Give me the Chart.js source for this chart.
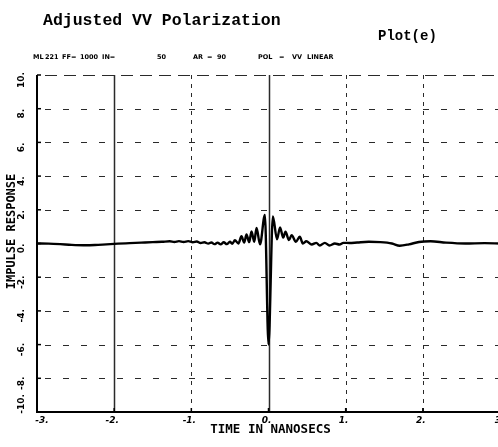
<!DOCTYPE html>
<html>
<head>
<meta charset="utf-8">
<script src="https://cdn.jsdelivr.net/npm/chart.js@4/dist/chart.umd.min.js"></script>
<style>
  html, body { margin: 0; padding: 0; background: #fff; overflow: hidden; }
  #wrap { width: 502px; height: 447px; }
</style>
</head>
<body>
<div id="wrap"><canvas id="plot" width="502" height="447"></canvas></div>
<script>
// impulse response samples, time in ns
const timeNs = [
  -3.00, -2.85, -2.70, -2.55, -2.40, -2.25, -2.10, -1.95, -1.80, -1.65,
  -1.50, -1.38, -1.28, -1.22, -1.16, -1.10, -1.04, -0.98, -0.93, -0.88,
  -0.83, -0.78, -0.74, -0.70, -0.66, -0.62, -0.58, -0.54, -0.50, -0.47,
  -0.435, -0.39, -0.35, -0.315, -0.285, -0.25, -0.22, -0.185, -0.155, -0.11,
  -0.047, 0.00, 0.057, 0.11, 0.15, 0.19, 0.22, 0.265, 0.30, 0.355,
  0.405, 0.445, 0.49, 0.56, 0.62, 0.665, 0.73, 0.79, 0.86, 0.92,
  0.97, 1.05, 1.15, 1.30, 1.45, 1.60, 1.70, 1.82, 1.95, 2.10,
  2.30, 2.55, 2.80, 3.00
]
const response = [
  0.00, -0.01, -0.04, -0.08, -0.10, -0.09, -0.05, -0.01, 0.02, 0.05,
  0.08, 0.10, 0.13, 0.09, 0.14, 0.09, 0.14, 0.07, 0.12, 0.03,
  0.07, -0.01, 0.06, -0.04, 0.05, -0.05, 0.07, -0.04, 0.10, -0.02,
  0.19, 0.00, 0.43, 0.05, 0.53, 0.08, 0.72, 0.10, 0.93, -0.05,
  1.70, -6.00, 1.60, 0.25, 0.95, 0.35, 0.70, 0.20, 0.50, 0.10,
  0.40, 0.00, 0.13, -0.06, 0.04, -0.12, 0.04, -0.12, 0.00, -0.06,
  0.04, 0.03, 0.06, 0.10, 0.08, 0.00, -0.13, -0.05, 0.09, 0.13,
  0.05, 0.00, 0.02, 0.00
]

const xTicks = [-3, -2, -1, 0, 1, 2, 3]
const xTickLabels = ['-3.', '-2.', '-1.', '0.', '1.', '2.', '3']
const yTicks = [10, 8, 6, 4, 2, 0, -2, -4, -6, -8, -10]
const yTickLabels = ['10.', '8.', '6.', '4.', '2.', '0.', '-2.', '-4.', '-6.', '-8.', '-10.']
const solidX = [-2, 0]

const titleText = 'Adjusted VV Polarization'
const plotTag = 'Plot(e)'
const header = [
  ['ML', 33], ['221', 45], ['FF=', 62], ['1000', 80], ['IN=', 102], ['50', 157],
  ['AR', 193], ['=', 207], ['90', 217], ['POL', 258], ['=', 279], ['VV', 292], ['LINEAR', 307]
]
const xTitle = 'TIME IN NANOSECS'
const yTitle = 'IMPULSE RESPONSE'

const points = timeNs.map((t, i) => ({x: t, y: response[i]}))

const plotterFrame = {
  id: 'plotterFrame',
  beforeDatasetsDraw(chart) {
    const {ctx, chartArea: {left, right, top, bottom}, scales: {x, y}} = chart
    ctx.save()
    ctx.strokeStyle = '#2a2a2a'

    // horizontal grid
    ctx.lineWidth = 1
    yTicks.forEach(v => {
      if (v === 0 || v === -10) return
      const py = Math.round(y.getPixelForValue(v)) + 0.5
      ctx.setLineDash(v === 10 ? [12, 7] : [6, 12])
      ctx.beginPath()
      ctx.moveTo(left + 8, py)
      ctx.lineTo(right, py)
      ctx.stroke()
    })

    // vertical grid
    xTicks.forEach(v => {
      if (v === xTicks[0] || v === xTicks[xTicks.length - 1]) return
      const px = Math.round(x.getPixelForValue(v)) + 0.5
      const solid = solidX.includes(v)
      ctx.setLineDash(solid ? [] : [4, 5])
      ctx.lineWidth = solid ? 1.5 : 1
      ctx.beginPath()
      ctx.moveTo(px, top)
      ctx.lineTo(px, bottom)
      ctx.stroke()
    })

    // axes
    ctx.setLineDash([])
    ctx.strokeStyle = '#000'
    ctx.lineWidth = 2
    ctx.beginPath()
    ctx.moveTo(left, top)
    ctx.lineTo(left, bottom)
    ctx.lineTo(right, bottom)
    ctx.stroke()

    // tick marks
    ctx.lineWidth = 1.5
    yTicks.forEach(v => {
      const py = y.getPixelForValue(v)
      ctx.beginPath()
      ctx.moveTo(left, py)
      ctx.lineTo(left + 4, py)
      ctx.stroke()
    })
    xTicks.forEach(v => {
      const px = x.getPixelForValue(v)
      ctx.beginPath()
      ctx.moveTo(px, bottom)
      ctx.lineTo(px, bottom - 4)
      ctx.stroke()
    })
    ctx.restore()
  },
  afterDraw(chart) {
    const {ctx, chartArea: {left, right, bottom}, scales: {x, y}} = chart
    ctx.save()
    ctx.fillStyle = '#000'

    ctx.font = 'bold 16.5px "Liberation Mono"'
    ctx.textBaseline = 'alphabetic'
    ctx.textAlign = 'left'
    ctx.fillText(titleText, 43, 25)

    ctx.font = 'bold 14px "Liberation Mono"'
    ctx.fillText(plotTag, 378, 40)

    ctx.font = 'bold 6.5px "DejaVu Sans"'
    header.forEach(([s, px]) => ctx.fillText(s, px, 59))

    // x tick labels
    ctx.font = 'italic bold 9px "DejaVu Sans"'
    ctx.textAlign = 'center'
    xTicks.forEach((v, i) => {
      const px = x.getPixelForValue(v)
      ctx.fillText(xTickLabels[i], i === 0 ? px + 5 : px - 2, bottom + 11)
    })

    ctx.font = 'bold 12.5px "DejaVu Sans Mono"'
    ctx.fillText(xTitle, (left + right) / 2 + 2, bottom + 21)

    // y tick labels, written bottom-to-top
    ctx.font = 'bold 9px "DejaVu Sans"'
    yTicks.forEach((v, i) => {
      const py = y.getPixelForValue(v)
      ctx.save()
      ctx.translate(23.5, i === yTicks.length - 1 ? py - 8 : py + 5)
      ctx.rotate(-Math.PI / 2)
      ctx.textAlign = 'center'
      ctx.fillText(yTickLabels[i], 0, 0)
      ctx.restore()
    })

    ctx.save()
    ctx.font = 'bold 12px "DejaVu Sans Mono"'
    ctx.translate(15, y.getPixelForValue(0) - 12)
    ctx.rotate(-Math.PI / 2)
    ctx.textAlign = 'center'
    ctx.fillText(yTitle, 0, 0)
    ctx.restore()

    ctx.restore()
  }
}

new Chart(document.getElementById('plot'), {
  type: 'line',
  data: {
    datasets: [{
      data: points,
      borderColor: '#000',
      borderWidth: 2.4,
      pointRadius: 0,
      cubicInterpolationMode: 'monotone',
      fill: false
    }]
  },
  options: {
    responsive: false,
    animation: false,
    layout: {padding: {left: 37, right: 2, top: 75, bottom: 35}},
    plugins: {legend: {display: false}, tooltip: {enabled: false}},
    scales: {
      x: {type: 'linear', min: -3, max: 3, display: false},
      y: {type: 'linear', min: -10, max: 10, display: false}
    }
  },
  plugins: [plotterFrame]
})
</script>
</body>
</html>
